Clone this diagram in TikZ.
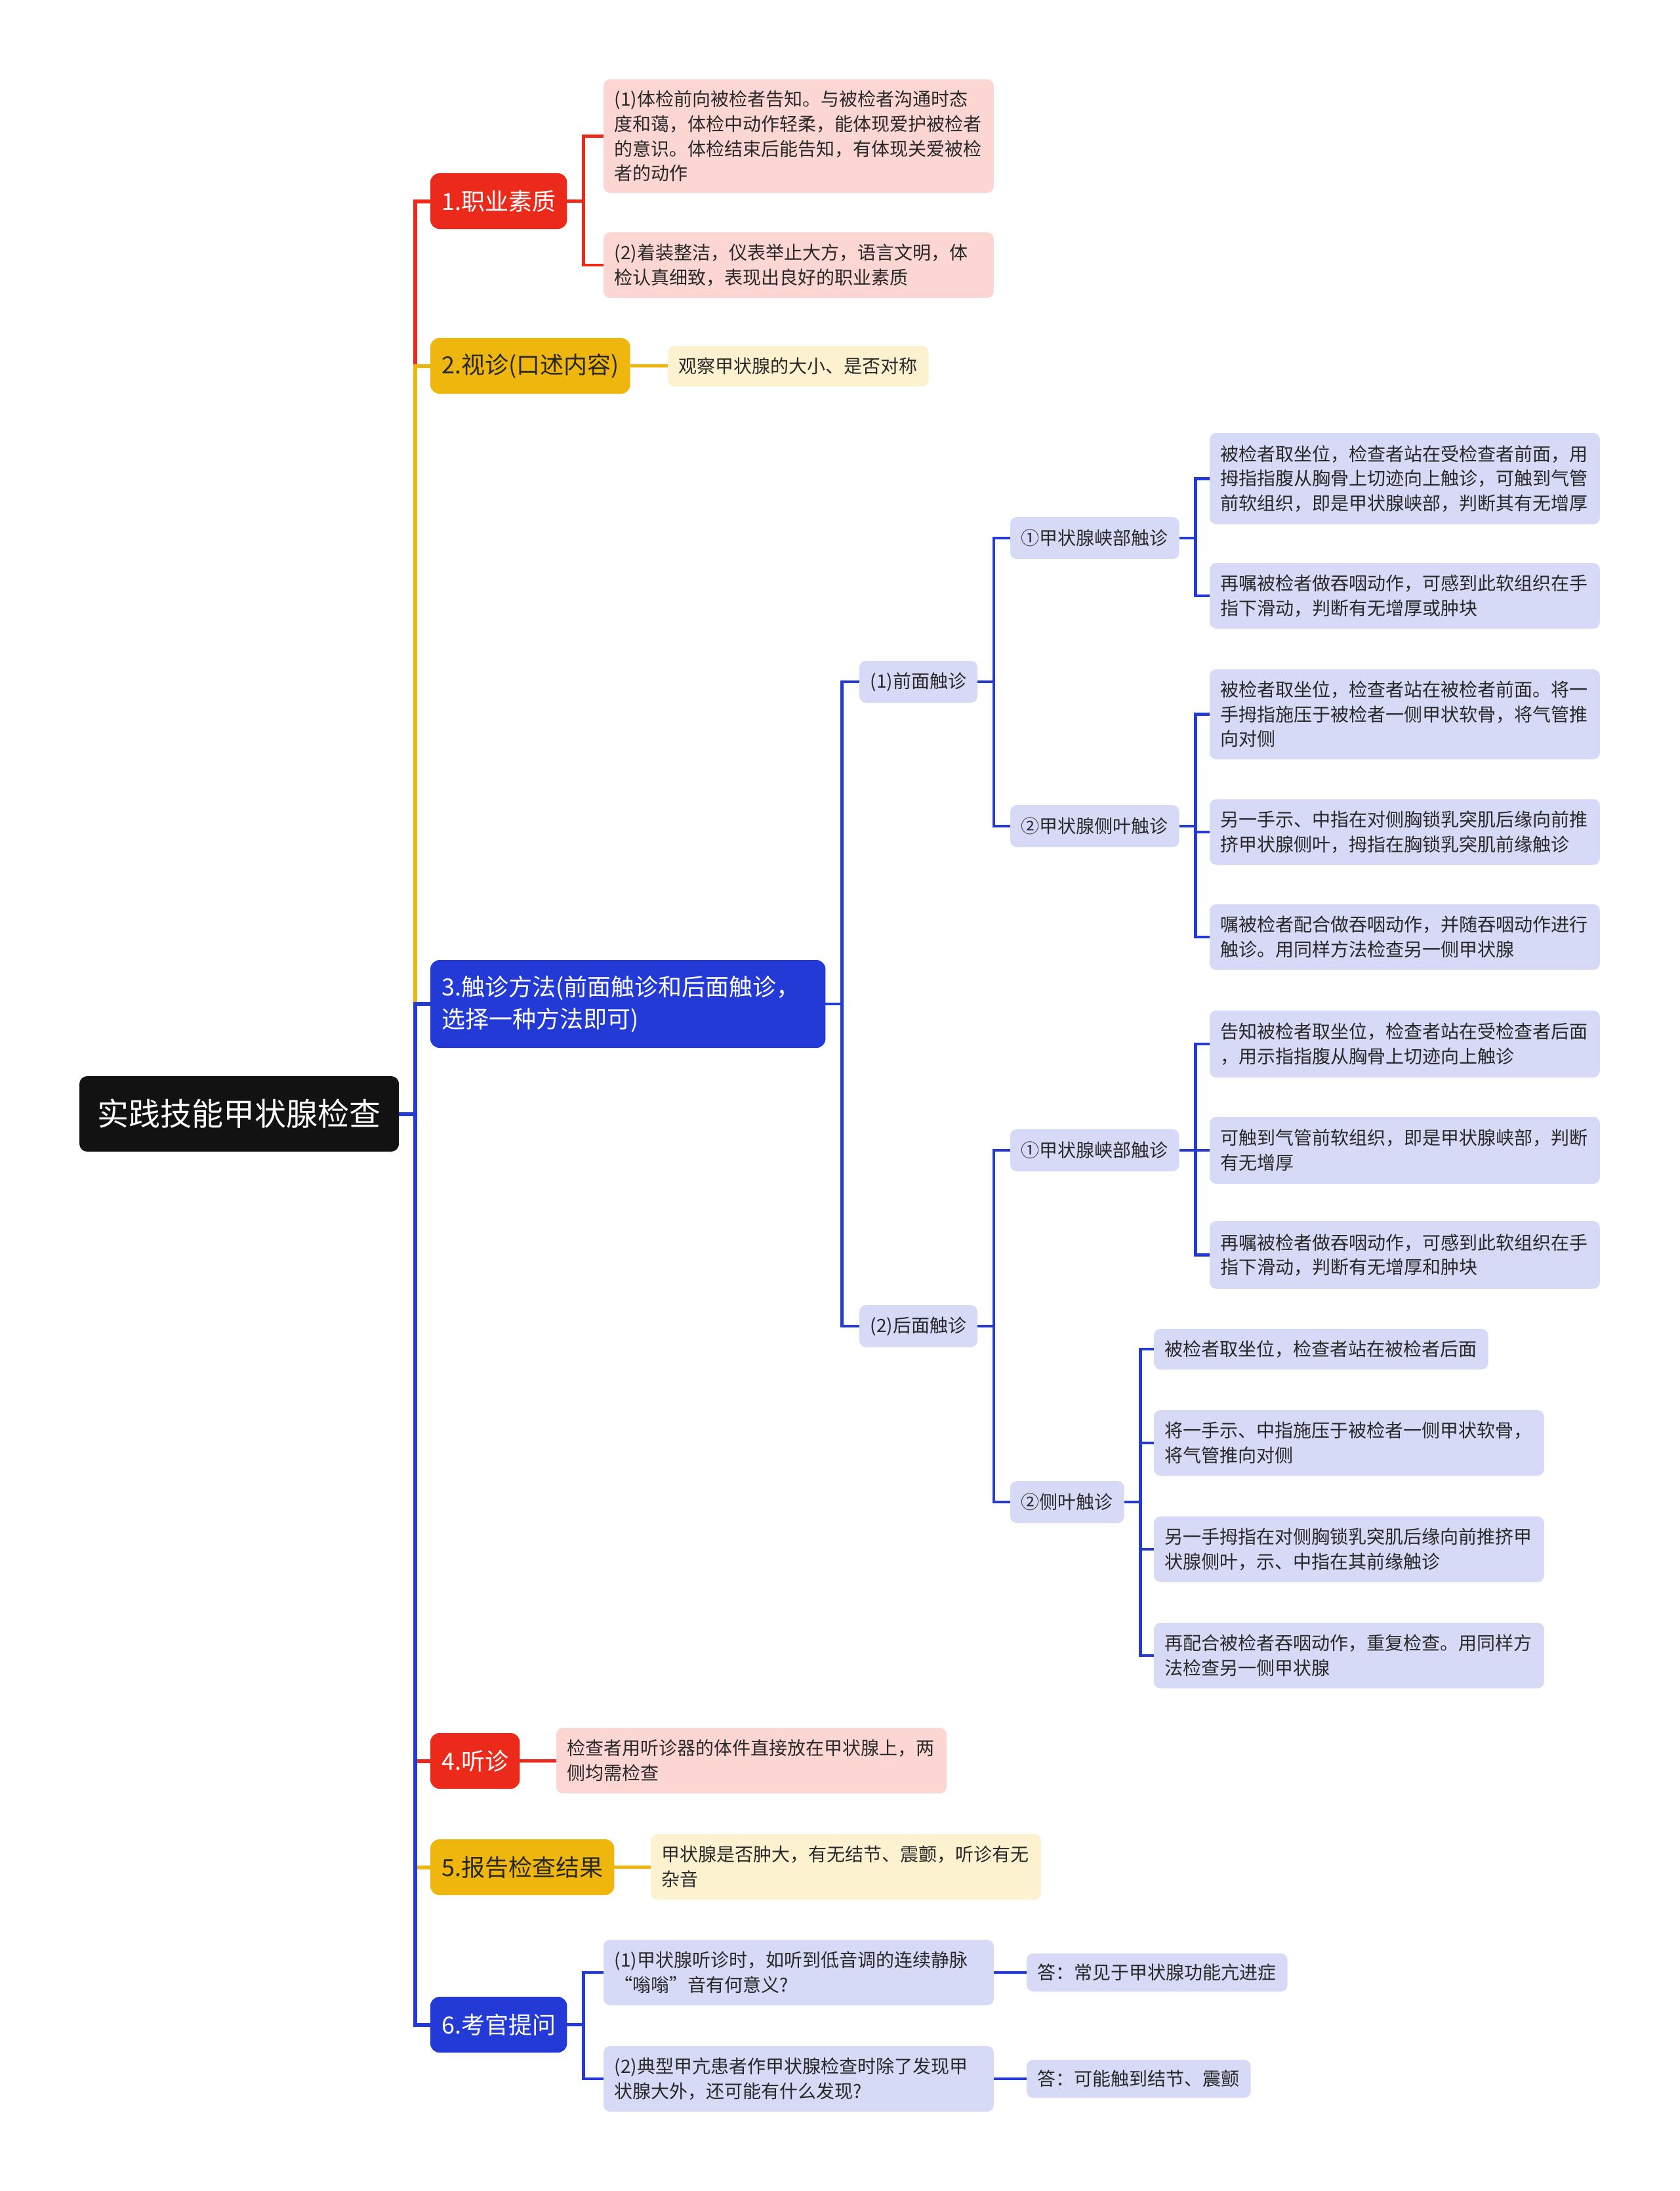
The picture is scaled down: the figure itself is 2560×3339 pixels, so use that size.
\documentclass[tikz,border=0pt]{standalone}
\usepackage{fontspec}
\setmainfont{Noto Sans CJK SC}
\definecolor{cr}{RGB}{236,42,28}
\definecolor{cy}{RGB}{239,182,14}
\definecolor{cb}{RGB}{36,58,214}
\definecolor{pinkf}{RGB}{252,214,211}
\definecolor{yellf}{RGB}{253,242,207}
\definecolor{bluef}{RGB}{214,218,247}
\definecolor{ink}{RGB}{40,40,40}
\tikzset{
 box/.style={anchor=north west,inner xsep=4.2pt,inner ysep=0pt,outer sep=0pt,align=left,rounded corners=2.5pt,font=\fontsize{7}{9.4}\selectfont,text=ink},
 wide/.style={text width=140.3pt},
 topbox/.style={anchor=north west,inner xsep=4.3pt,inner ysep=0pt,outer sep=0pt,align=left,rounded corners=3.5pt,minimum height=21.25pt,font=\fontsize{9}{12.25}\selectfont},
 rootbox/.style={anchor=north west,inner xsep=6.9pt,inner ysep=0pt,outer sep=0pt,rounded corners=3pt,minimum height=28.75pt,fill=black!93,text=white,font=\fontsize{12}{14}\selectfont}
}
\begin{document}
\begin{tikzpicture}[x=0.25pt,y=-0.25pt]
 \useasboundingbox (0,0) rectangle (2560,3339);
 % main topic and first level
 \node[rootbox] (root) at (121,1640) {实践技能甲状腺检查};
 \node[topbox,fill=cr,text=white] (n1) at (656,264) {1.职业素质};
 \node[topbox,fill=cy,text=ink] (n2) at (656,515) {2.视诊(口述内容)};
 \node[topbox,fill=cb,text=white,minimum height=33.5pt,text width=142pt] (n3) at (656,1463) {3.触诊方法(前面触诊和后面触诊，\\选择一种方法即可)};
 \node[topbox,fill=cr,text=white] (n4) at (656,2641) {4.听诊};
 \node[topbox,fill=cy,text=ink] (n5) at (656,2803) {5.报告检查结果};
 \node[topbox,fill=cb,text=white] (n6) at (656,3043) {6.考官提问};
 % 1 and 2
 \node[box,wide,fill=pinkf,minimum height=43.25pt] (a1) at (920,121) {(1)体检前向被检者告知。与被检者沟通时态\\度和蔼，体检中动作轻柔，能体现爱护被检者\\的意识。体检结束后能告知，有体现关爱被检\\者的动作};
 \node[box,wide,fill=pinkf,minimum height=25pt] (a2) at (920,354) {(2)着装整洁，仪表举止大方，语言文明，体\\检认真细致，表现出良好的职业素质};
 \node[box,fill=yellf,minimum height=15.5pt] (b1) at (1018,527) {观察甲状腺的大小、是否对称};
 % 3
 \node[box,fill=bluef,minimum height=16pt] (c1) at (1310,1007) {(1)前面触诊};
 \node[box,fill=bluef,minimum height=16pt] (c2) at (1310,1989) {(2)后面触诊};
 \node[box,fill=bluef,minimum height=16pt] (d1) at (1540,788) {①甲状腺峡部触诊};
 \node[box,fill=bluef,minimum height=16pt] (d2) at (1540,1227) {②甲状腺侧叶触诊};
 \node[box,fill=bluef,minimum height=16pt] (d3) at (1540,1721) {①甲状腺峡部触诊};
 \node[box,fill=bluef,minimum height=16pt] (d4) at (1540,2257) {②侧叶触诊};
 \node[box,wide,fill=bluef,minimum height=34.75pt] (e1) at (1844,660) {被检者取坐位，检查者站在受检查者前面，用\\拇指指腹从胸骨上切迹向上触诊，可触到气管\\前软组织，即是甲状腺峡部，判断其有无增厚};
 \node[box,wide,fill=bluef,minimum height=25pt] (e2) at (1844,858) {再嘱被检者做吞咽动作，可感到此软组织在手\\指下滑动，判断有无增厚或肿块};
 \node[box,wide,fill=bluef,minimum height=34.25pt] (e3) at (1844,1020) {被检者取坐位，检查者站在被检者前面。将一\\手拇指施压于被检者一侧甲状软骨，将气管推\\向对侧};
 \node[box,wide,fill=bluef,minimum height=25pt] (e4) at (1844,1218) {另一手示、中指在对侧胸锁乳突肌后缘向前推\\挤甲状腺侧叶，拇指在胸锁乳突肌前缘触诊};
 \node[box,wide,fill=bluef,minimum height=25pt] (e5) at (1844,1378) {嘱被检者配合做吞咽动作，并随吞咽动作进行\\触诊。用同样方法检查另一侧甲状腺};
 \node[box,wide,fill=bluef,minimum height=25.5pt] (e6) at (1844,1540) {告知被检者取坐位，检查者站在受检查者后面\\，用示指指腹从胸骨上切迹向上触诊};
 \node[box,wide,fill=bluef,minimum height=25.5pt] (e7) at (1844,1702) {可触到气管前软组织，即是甲状腺峡部，判断\\有无增厚};
 \node[box,wide,fill=bluef,minimum height=25.75pt] (e8) at (1844,1861) {再嘱被检者做吞咽动作，可感到此软组织在手\\指下滑动，判断有无增厚和肿块};
 \node[box,fill=bluef,minimum height=15.5pt] (f1) at (1759,2025) {被检者取坐位，检查者站在被检者后面};
 \node[box,wide,fill=bluef,minimum height=25pt] (f2) at (1759,2149) {将一手示、中指施压于被检者一侧甲状软骨，\\将气管推向对侧};
 \node[box,wide,fill=bluef,minimum height=25pt] (f3) at (1759,2311) {另一手拇指在对侧胸锁乳突肌后缘向前推挤甲\\状腺侧叶，示、中指在其前缘触诊};
 \node[box,wide,fill=bluef,minimum height=25pt] (f4) at (1759,2473) {再配合被检者吞咽动作，重复检查。用同样方\\法检查另一侧甲状腺};
 % 4, 5 and 6
 \node[box,wide,fill=pinkf,minimum height=25pt] (g1) at (848,2633) {检查者用听诊器的体件直接放在甲状腺上，两\\侧均需检查};
 \node[box,wide,fill=yellf,minimum height=25pt] (h1) at (992,2795) {甲状腺是否肿大，有无结节、震颤，听诊有无\\杂音};
 \node[box,wide,fill=bluef,minimum height=25pt] (q1) at (920,2956) {(1)甲状腺听诊时，如听到低音调的连续静脉\\“嗡嗡”音有何意义?};
 \node[box,wide,fill=bluef,minimum height=25pt] (q2) at (920,3118) {(2)典型甲亢患者作甲状腺检查时除了发现甲\\状腺大外，还可能有什么发现?};
 \node[box,fill=bluef,minimum height=14.5pt] (r1) at (1565,2977) {答：常见于甲状腺功能亢进症};
 \node[box,fill=bluef,minimum height=14.5pt] (r2) at (1565,3139) {答：可能触到结节、震颤};
 % connectors
 \foreach \c/\col in {n1/cr,n2/cy,n3/cb,n4/cr,n5/cy,n6/cb}
  \draw[draw=\col,line width=1.5pt] (root.east) -- ++(25,0) coordinate (j) -- (j |- \c.west) [rounded corners=4pt] -- (\c.west);
 \foreach \p/\c/\col in {n1/a1/cr,n1/a2/cr,n3/c1/cb,n3/c2/cb,c1/d1/cb,c1/d2/cb,c2/d3/cb,c2/d4/cb,
   d1/e1/cb,d1/e2/cb,d2/e3/cb,d2/e4/cb,d2/e5/cb,d3/e6/cb,d3/e7/cb,d3/e8/cb,d4/f1/cb,d4/f2/cb,d4/f3/cb,d4/f4/cb,n6/q1/cb,n6/q2/cb}
  \draw[draw=\col,line width=1.1pt] (\p.east) -- ++(25,0) coordinate (j) -- (j |- \c.west) [rounded corners=3pt] -- (\c.west);
 \foreach \p/\c/\col in {n2/b1/cy,n4/g1/cr,n5/h1/cy,q1/r1/cb,q2/r2/cb}
  \draw[draw=\col,line width=1.1pt] (\p.east) -- (\p.east -| \c.west);
\end{tikzpicture}
\end{document}
